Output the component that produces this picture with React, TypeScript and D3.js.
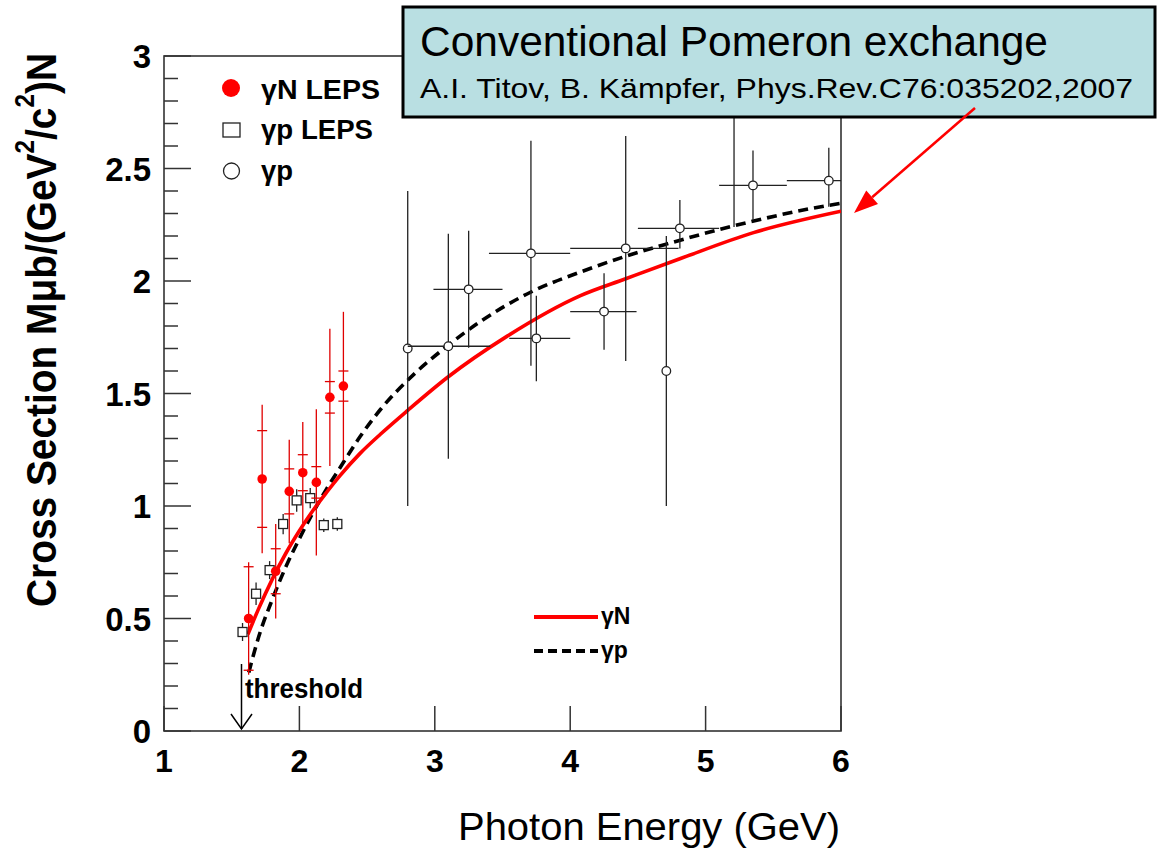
import React from "react";
import * as d3 from "d3";

// gamma N LEPS (red filled circles)
const redE = [1.625, 1.725, 1.825, 1.925, 2.025, 2.125, 2.225, 2.325];
const redY = [0.5, 1.12, 0.71, 1.065, 1.148, 1.105, 1.483, 1.533];
const redErrTot = [0.25, 0.33, 0.21, 0.23, 0.225, 0.325, 0.305, 0.33];
const redErrStat = [0.23, 0.215, 0.1, 0.1, 0.08, 0.07, 0.07, 0.067];

// gamma p LEPS (open squares)
const sqE = [1.58, 1.68, 1.78, 1.88, 1.98, 2.08, 2.18, 2.28];
const sqY = [0.44, 0.61, 0.715, 0.92, 1.025, 1.035, 0.915, 0.92];
const sqErr = [0.04, 0.05, 0.04, 0.045, 0.05, 0.045, 0.03, 0.03];

// gamma p (open circles)
const cE = [2.8, 3.1, 3.25, 3.71, 3.75, 4.25, 4.41, 4.71, 4.81, 5.21, 5.35, 5.91];
const cY = [1.7, 1.71, 1.963, 2.123, 1.745, 1.864, 2.145, 1.6, 2.234, 2.95, 2.425, 2.446];
const cErrLo = [0.7, 0.5, 0.26, 0.5, 0.19, 0.17, 0.5, 0.6, 0.09, 0.71, 0.155, 0.116];
const cErrHi = [0.7, 0.5, 0.26, 0.5, 0.19, 0.17, 0.5, 0.6, 0.126, 0.71, 0.155, 0.146];
const cXLo = [2.8, 2.8, 2.99, 3.4, 3.55, 4.0, 4.0, 4.71, 4.5, 5.21, 5.1, 5.6];
const cXHi = [2.8, 3.41, 3.5, 4.0, 4.0, 4.49, 4.8, 4.71, 5.1, 5.21, 5.6, 6.0];

// Model curves: conventional Pomeron exchange
const gNCurveE = [1.62, 1.7, 1.8, 1.9, 2.0, 2.1, 2.2, 2.3, 2.45, 2.6, 2.8, 3.09, 3.535, 4.076, 4.41, 4.815, 5.354, 6.0];
const gNCurveY = [0.43, 0.545, 0.675, 0.79, 0.89, 0.98, 1.06, 1.135, 1.235, 1.32, 1.425, 1.57, 1.755, 1.935, 2.01, 2.1, 2.215, 2.31];
const gpCurveE = [1.626, 1.7, 1.8, 1.9, 2.0, 2.1, 2.2, 2.3, 2.45, 2.6, 2.845, 3.09, 3.337, 3.707, 4.076, 4.41, 4.716, 5.208, 5.947, 6.0];
const gpCurveY = [0.26, 0.42, 0.585, 0.73, 0.855, 0.97, 1.075, 1.17, 1.31, 1.43, 1.585, 1.71, 1.82, 1.95, 2.04, 2.11, 2.165, 2.245, 2.34, 2.345];

const xTicks = [1, 2, 3, 4, 5, 6];
const yTicks = [0, 0.5, 1, 1.5, 2, 2.5, 3];
const yTickLabels = ["0", "0.5", "1", "1.5", "2", "2.5", "3"];

export default function App() {
  const x = d3.scaleLinear().domain([1, 6]).range([164, 841]);
  const y = d3.scaleLinear().domain([0, 3]).range([731, 56]);
  const minorY = d3.range(0, 30).map((i) => i / 10).filter((v) => Math.abs(v * 2 - Math.round(v * 2)) > 1e-6);

  const line = d3
    .line<[number, number]>()
    .x((d) => x(d[0]))
    .y((d) => y(d[1]))
    .curve(d3.curveMonotoneX);
  const gNPath = line(gNCurveE.map((e, i) => [e, gNCurveY[i]]) as [number, number][]) || "";
  const gpPath = line(gpCurveE.map((e, i) => [e, gpCurveY[i]]) as [number, number][]) || "";

  const bold = "'Liberation Sans', Arial, sans-serif";

  // red arrow
  const ax0 = 975, ay0 = 108, ax1 = 854, ay1 = 213;
  const len = Math.hypot(ax1 - ax0, ay1 - ay0);
  const ux = (ax1 - ax0) / len, uy = (ay1 - ay0) / len;
  const hl = 24, hw = 9;
  const bx = ax1 - ux * hl, by = ay1 - uy * hl;
  const head = `${ax1},${ay1} ${bx - uy * hw},${by + ux * hw} ${bx + uy * hw},${by - ux * hw}`;

  return (
    <svg width={1159} height={848} style={{ position: "absolute", left: 0, top: 0, background: "#fff" }} fontFamily={bold}>
      <defs>
        <clipPath id="plotclip">
          <rect x={164} y={56} width={677} height={675} />
        </clipPath>
      </defs>

      {/* frame */}
      <rect x={164} y={56} width={677} height={675} fill="none" stroke="#333" strokeWidth={1.6} />

      {/* y ticks */}
      {yTicks.map((t) => (
        <line key={"ym" + t} x1={164} x2={191} y1={y(t)} y2={y(t)} stroke="#333" strokeWidth={1.5} />
      ))}
      {minorY.map((t) => (
        <line key={"yn" + t} x1={164} x2={178} y1={y(t)} y2={y(t)} stroke="#333" strokeWidth={1.5} />
      ))}
      {/* x ticks */}
      {xTicks.map((t) => (
        <line key={"xm" + t} x1={x(t)} x2={x(t)} y1={731} y2={706} stroke="#333" strokeWidth={1.5} />
      ))}

      {/* tick labels */}
      {yTicks.map((t, i) => (
        <text key={"yl" + t} x={151} y={y(t) + 12} textAnchor="end" fontSize={33} fontWeight="bold" fill="#000">
          {yTickLabels[i]}
        </text>
      ))}
      {xTicks.map((t) => (
        <text key={"xl" + t} x={x(t)} y={772} textAnchor="middle" fontSize={32} fontWeight="bold" fill="#000">
          {t}
        </text>
      ))}

      {/* axis titles */}
      <text x={458} y={840} fontSize={38} fill="#000" textLength={382} lengthAdjust="spacingAndGlyphs">
        Photon Energy (GeV)
      </text>
      <text
        transform="translate(56,607) rotate(-90)"
        x={0}
        y={0}
        fontSize={43}
        fontWeight="bold"
        fill="#000"
        textLength={554}
        lengthAdjust="spacingAndGlyphs"
      >
        Cross Section Mμb/(GeV
        <tspan fontSize={27} dy={-22}>2</tspan>
        <tspan dy={22}>/c</tspan>
        <tspan fontSize={27} dy={-22}>2</tspan>
        <tspan dy={22}>)N</tspan>
      </text>

      {/* curves */}
      <g clipPath="url(#plotclip)">
        <path d={gpPath} fill="none" stroke="#000" strokeWidth={3.6} strokeDasharray="10,6" />
        <path d={gNPath} fill="none" stroke="#ff0000" strokeWidth={3.6} />
      </g>

      {/* gamma p circles */}
      <g clipPath="url(#plotclip)" stroke="#222" strokeWidth={1.3}>
        {cE.map((e, i) => (
          <g key={"c" + i}>
            <line x1={x(e)} x2={x(e)} y1={y(cY[i] + cErrHi[i])} y2={y(cY[i] - cErrLo[i])} />
            {cXHi[i] > cXLo[i] && <line x1={x(cXLo[i])} x2={x(cXHi[i])} y1={y(cY[i])} y2={y(cY[i])} />}
            <circle cx={x(e)} cy={y(cY[i])} r={4.3} fill="#fff" />
          </g>
        ))}
      </g>

      {/* gamma p LEPS squares */}
      <g stroke="#222" strokeWidth={1.3}>
        {sqE.map((e, i) => (
          <g key={"s" + i}>
            <line x1={x(e)} x2={x(e)} y1={y(sqY[i] + sqErr[i])} y2={y(sqY[i] - sqErr[i])} />
            <rect x={x(e) - 4.5} y={y(sqY[i]) - 4.5} width={9} height={9} fill="#fff" />
          </g>
        ))}
      </g>

      {/* gamma N LEPS red */}
      <g stroke="#e00000" strokeWidth={1.3}>
        {redE.map((e, i) => (
          <g key={"r" + i}>
            <line x1={x(e)} x2={x(e)} y1={y(redY[i] + redErrTot[i])} y2={y(redY[i] - redErrTot[i])} />
            <line x1={x(e) - 5} x2={x(e) + 5} y1={y(redY[i] + redErrStat[i])} y2={y(redY[i] + redErrStat[i])} />
            <line x1={x(e) - 5} x2={x(e) + 5} y1={y(redY[i] - redErrStat[i])} y2={y(redY[i] - redErrStat[i])} />
            <circle cx={x(e)} cy={y(redY[i])} r={4.8} fill="#ff0000" stroke="none" />
          </g>
        ))}
      </g>

      {/* top-left legend */}
      <circle cx={231} cy={88} r={9} fill="#ff0000" />
      <text x={261} y={99} fontSize={27} fontWeight="bold" textLength={119} lengthAdjust="spacingAndGlyphs">γN LEPS</text>
      <rect x={223} y={123} width={17} height={14} fill="#fff" stroke="#222" strokeWidth={1.3} />
      <text x={261} y={139} fontSize={27} fontWeight="bold" textLength={112} lengthAdjust="spacingAndGlyphs">γp LEPS</text>
      <circle cx={231.5} cy={171} r={8} fill="#fff" stroke="#222" strokeWidth={1.3} />
      <text x={261} y={180} fontSize={27} fontWeight="bold" textLength={32} lengthAdjust="spacingAndGlyphs">γp</text>

      {/* bottom legend */}
      <line x1={534} x2={598} y1={617} y2={617} stroke="#ff0000" strokeWidth={4} />
      <text x={601} y={624} fontSize={23} fontWeight="bold">γN</text>
      <line x1={534} x2={598} y1={651} y2={651} stroke="#000" strokeWidth={4} strokeDasharray="9,5" />
      <text x={601} y={658} fontSize={23} fontWeight="bold">γp</text>

      {/* threshold */}
      <line x1={241.5} x2={241.5} y1={664} y2={729} stroke="#000" strokeWidth={1.5} />
      <polyline points="231,714 241.5,729 252,714" fill="none" stroke="#000" strokeWidth={1.5} />
      <text x={245} y={698} fontSize={27} fontWeight="bold" textLength={118} lengthAdjust="spacingAndGlyphs">threshold</text>

      {/* annotation box */}
      <rect x={403} y={7} width={752} height={110} fill="#b9dfe2" stroke="#000" strokeWidth={3} />
      <text x={420} y={56} fontSize={42} fill="#000" textLength={628} lengthAdjust="spacingAndGlyphs">
        Conventional Pomeron exchange
      </text>
      <text x={420} y={98} fontSize={28} fill="#000" textLength={713} lengthAdjust="spacingAndGlyphs">
        A.I. Titov, B. Kämpfer, Phys.Rev.C76:035202,2007
      </text>

      {/* red arrow */}
      <line x1={ax0} y1={ay0} x2={bx} y2={by} stroke="#ff0000" strokeWidth={2.5} />
      <polygon points={head} fill="#ff0000" />
    </svg>
  );
}
